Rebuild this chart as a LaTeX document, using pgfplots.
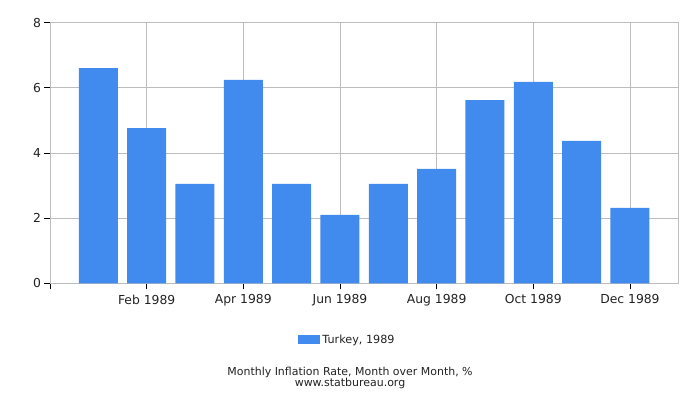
\documentclass[border=0pt]{standalone}
\usepackage{fontspec}
\setmainfont{DejaVu Sans}
\usepackage{pgfplots}
\pgfplotsset{compat=1.18}
\definecolor{barblue}{HTML}{428BEE}
\definecolor{gridgray}{HTML}{BDBDBD}
\definecolor{txt}{HTML}{222222}
\begin{document}
\begin{tikzpicture}
\useasboundingbox (-50bp,-116.7bp) rectangle (650bp,283.3bp);
\begin{axis}[
    at={(0,0)}, anchor=south west,
    scale only axis,
    width=628.3bp, height=260.8bp,
    ybar, bar width=39bp, bar shift=0pt,
    xmin=0, xmax=13, ymin=0, ymax=8,
    xtick={0,2,4,6,8,10,12},
    xticklabels={,Feb 1989,Apr 1989,Jun 1989,Aug 1989,Oct 1989,Dec 1989},
    ytick={0,2,4,6,8},
    xtick pos=left, ytick pos=left,
    tick align=outside,
    major tick length=6bp,
    tick style={black, line width=0.8pt},
    xmajorgrids, ymajorgrids,
    grid style={gridgray, line width=0.8pt},
    axis line style={gridgray, line width=0.8pt},
    /pgf/number format/assume math mode=true,
    tick label style={font=\fontsize{12.4}{14}\selectfont, text=txt},
    xticklabel style={yshift=-2bp},
    yticklabel style={xshift=0.5bp},
    legend style={at={(rel axis cs:0.4735,-0.2155)}, anchor=center, draw=none,
        font=\fontsize{11.25}{13}\selectfont, text=txt, inner sep=0pt},
    legend image code/.code={\fill[barblue] (0bp,-4.5bp) rectangle (22bp,4.5bp);},
]
\addplot[fill=barblue, draw=none] coordinates {
    (1,6.60) (2,4.76) (3,3.05) (4,6.24) (5,3.05) (6,2.10)
    (7,3.05) (8,3.51) (9,5.62) (10,6.18) (11,4.37) (12,2.31)};
\addlegendentry{Turkey, 1989}
\end{axis}
\node[text=txt, font=\fontsize{11}{9.4}\selectfont, align=center, inner sep=0pt]
    at (300bp,-94.5bp) {Monthly Inflation Rate, Month over Month, \%\\www.statbureau.org};
\end{tikzpicture}
\end{document}
